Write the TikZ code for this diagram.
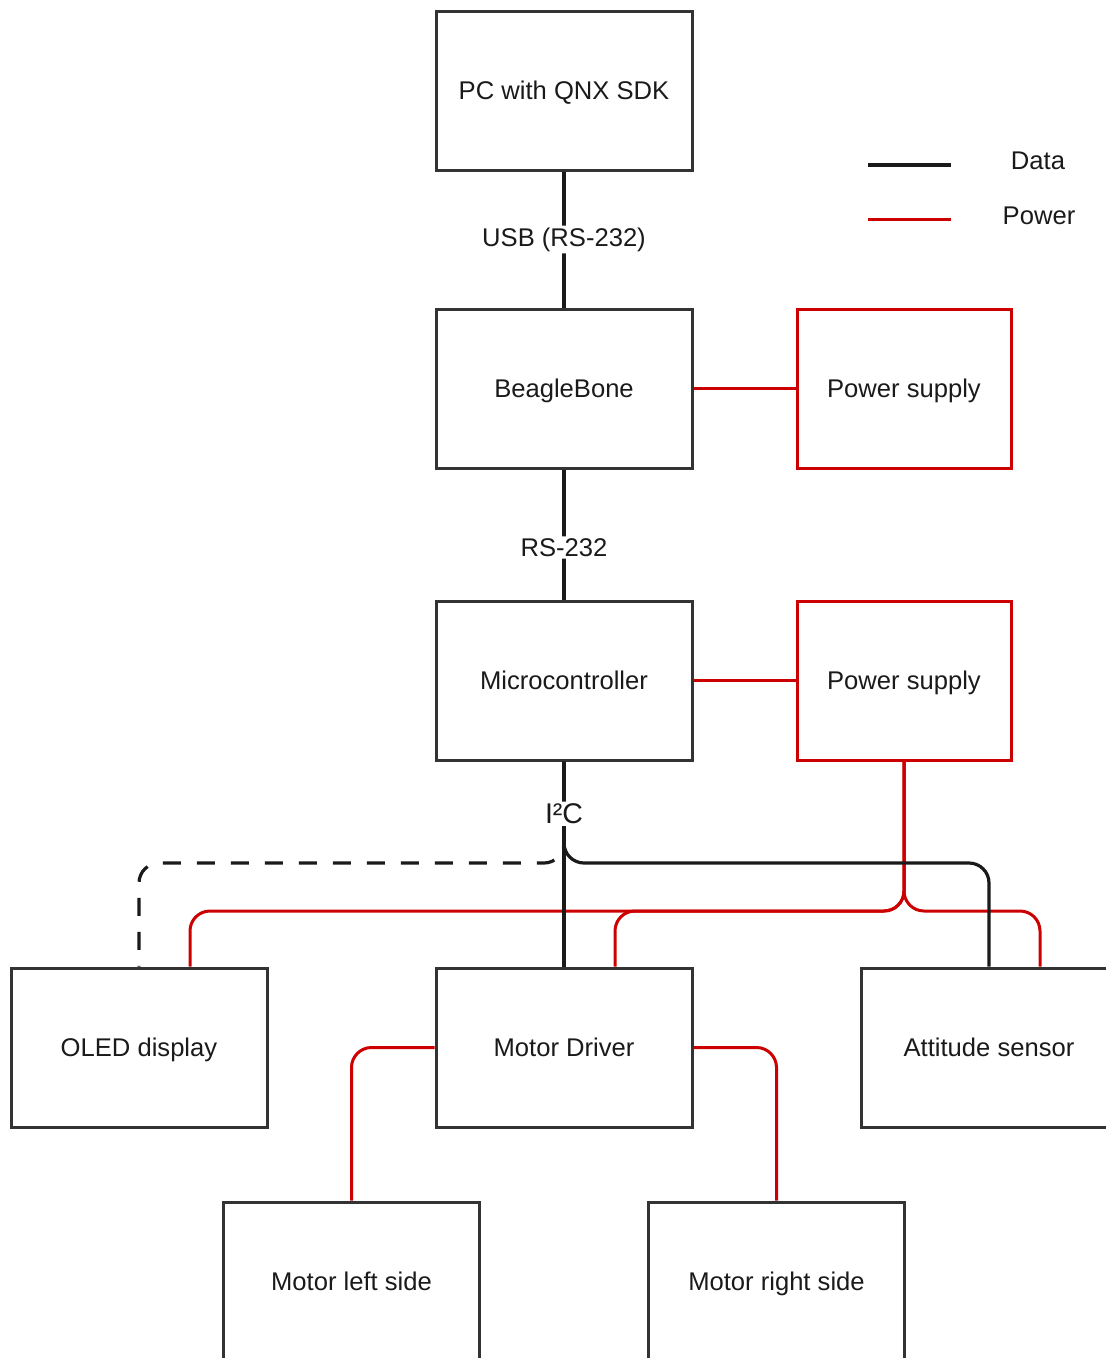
\documentclass[tikz,border=0pt]{standalone}
\usepackage{fontspec}
\setmainfont{Liberation Sans}
\definecolor{boxgray}{HTML}{333333}
\definecolor{wirered}{HTML}{CC0000}
\definecolor{inkblack}{HTML}{1A1A1A}

\begin{document}
\begin{tikzpicture}[x=1pt, y=-1pt,
  block/.style={draw=boxgray, line width=3pt, minimum width=256pt, minimum height=159pt, inner sep=0pt, text height=18.5pt, text depth=0pt, text=inkblack, font=\fontsize{25.6}{30}\selectfont},
  psblock/.style={block, draw=wirered, minimum width=214pt},
  data/.style={draw=inkblack, line width=3.2pt, rounded corners=20pt},
  power/.style={draw=wirered, line width=3pt, rounded corners=20pt},
  lbl/.style={fill=white, inner sep=2pt, text=inkblack, font=\fontsize{25.6}{30}\selectfont},
  keytext/.style={text=inkblack, font=\fontsize{25.6}{30}\selectfont}]
 \useasboundingbox (0,0) rectangle (1106,1358);

 \node[block] (pc) at (564,90.5) {PC with QNX SDK};
 \node[block] (bb) at (564,388.5) {BeagleBone};
 \node[psblock] (ps1) at (904,388.5) {Power supply};
 \node[block] (mcu) at (564,680.5) {Microcontroller};
 \node[psblock] (ps2) at (904,680.5) {Power supply};
 \node[block] (oled) at (139,1047.5) {OLED display};
 \node[block] (md) at (564,1047.5) {Motor Driver};
 \node[block] (att) at (989,1047.5) {Attitude sensor};
 \node[block] (ml) at (351.5,1281.5) {Motor left side};
 \node[block] (mr) at (776.5,1281.5) {Motor right side};

 \node[keytext] (kdata) at (1038,161) {Data};
 \node[keytext] (kpower) at (1039,216) {Power};
 \coordinate (kd1) at (868,165);
 \coordinate (kd2) at (951,165);
 \coordinate (kp1) at (868,219);
 \coordinate (kp2) at (951,219);
 \coordinate (dbus) at (0,863);
 \coordinate (pbus) at (0,911);

 \draw[data] (kd1) -- (kd2);
 \draw[power] (kp1) -- (kp2);

 \draw[data] (pc) -- node[lbl]{USB (RS-232)} (bb);
 \draw[power] (bb) -- (ps1);
 \draw[data] (bb) -- node[lbl, pos=0.6]{RS-232} (mcu);
 \draw[power] (mcu) -- (ps2);

 \draw[power] (ps2) -- (ps2 |- pbus) -| ([xshift=51pt]oled.north);
 \draw[power] (ps2) -- (ps2 |- pbus) -| ([xshift=51pt]md.north);
 \draw[power] (ps2) -- (ps2 |- pbus) -| ([xshift=51pt]att.north);
 \draw[power] (md.west) -| (ml.north);
 \draw[power] (md.east) -| (mr.north);

 \draw[data] (mcu) -- (mcu |- dbus) -| (att);
 \draw[data, dash pattern=on 18pt off 16pt] (mcu) -- (mcu |- dbus) -| (oled);
 \draw[data] (mcu) -- node[lbl, pos=0.255, font=\fontsize{28.5}{32}\selectfont]{I²C} (md);
\end{tikzpicture}
\end{document}
